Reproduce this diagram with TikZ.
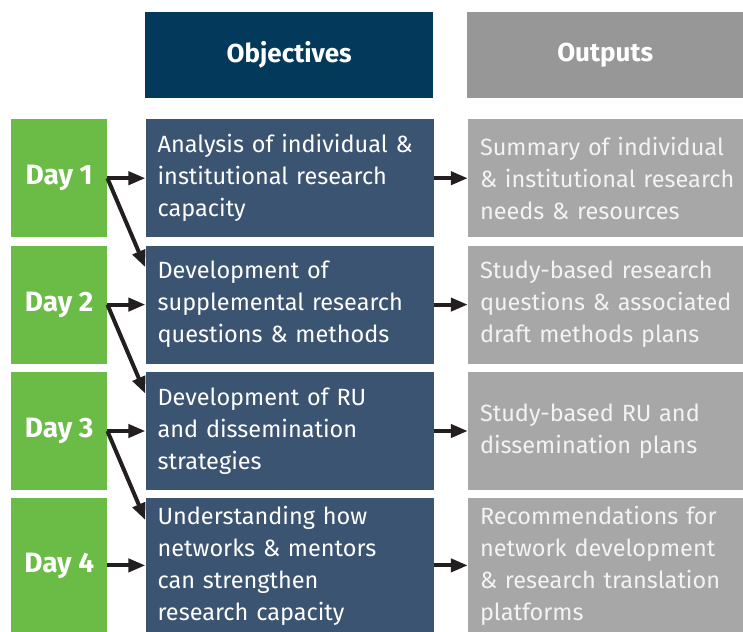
\documentclass[tikz,border=0pt]{standalone}
\usepackage{fontspec}
\setmainfont{Fira Sans}
\usetikzlibrary{positioning,arrows.meta}

\definecolor{daygreen}{HTML}{6BBC47}
\definecolor{objhead}{HTML}{03395A}
\definecolor{objbox}{HTML}{3A5472}
\definecolor{outhead}{HTML}{979797}
\definecolor{outbox}{HTML}{A7A7A7}
\definecolor{outtext}{HTML}{F3F3F3}
\definecolor{arrowblack}{HTML}{231F20}

\tikzset{
    headbox/.style={text=white, font=\bfseries\fontsize{26}{30}\selectfont,
        minimum height=86pt, inner sep=0pt, anchor=north west},
    daybox/.style={fill=daygreen, text=white, font=\bfseries\fontsize{28}{32}\selectfont,
        minimum width=96pt, minimum height=118pt, inner sep=0pt},
    objbox/.style={fill=objbox, text=white, font=\fontsize{23.5}{32}\selectfont,
        text width=264pt, inner xsep=12pt, inner ysep=0pt, align=left,
        minimum height=118pt},
    outbox/.style={fill=outbox, text=outtext, font=\fontsize{23.5}{32}\selectfont,
        text width=252pt, inner xsep=12pt, inner ysep=0pt, align=left,
        minimum height=118pt},
    flow/.style={draw=arrowblack, line width=4pt,
        -{Triangle[length=17pt, width=13pt]}},
}

\begin{document}
\begin{tikzpicture}[x=1pt, y=-1pt]
    \useasboundingbox (0,0) rectangle (743,631);

    % column headers
    \node[headbox, fill=objhead, minimum width=288pt] (objhead) at (145,12) {Objectives};
    \node[headbox, fill=outhead, minimum width=276pt] (outhead) at (467,12) {Outputs};

    % days
    \node[daybox, anchor=north west] (day1) at (11,119) {Day 1};
    \node[daybox, below=8pt of day1] (day2) {Day 2};
    \node[daybox, below=8pt of day2] (day3) {Day 3};
    \node[daybox, below=8pt of day3, minimum height=134pt] (day4) {Day 4};

    % objectives
    \node[objbox, right=38pt of day1] (obj1) {Analysis of individual \&\\ institutional research\\ capacity};
    \node[objbox, right=38pt of day2] (obj2) {Development of\\ supplemental research\\ questions \& methods};
    \node[objbox, right=38pt of day3] (obj3) {Development of RU\\ and dissemination\\ strategies};
    \node[objbox, right=38pt of day4, minimum height=134pt] (obj4) {Understanding how\\ networks \& mentors\\ can strengthen\\ research capacity};

    % outputs
    \node[outbox, right=34pt of obj1] (out1) {Summary of individual\\ \mbox{\& institutional research}\\ needs \& resources};
    \node[outbox, right=34pt of obj2] (out2) {Study-based research\\ questions \& associated\\ draft methods plans};
    \node[outbox, right=34pt of obj3] (out3) {Study-based RU and\\ dissemination plans};
    \node[outbox, right=34pt of obj4, minimum height=134pt] (out4) {Recommendations for\\ network development\\ \& research translation\\ platforms};

    % day -> objective
    \draw[flow] (day1.east) -- (obj1.west);
    \draw[flow] (day1.east) -- ([yshift=-22pt]obj2.north west);
    \draw[flow] (day2.east) -- (obj2.west);
    \draw[flow] (day2.east) -- ([yshift=-22pt]obj3.north west);
    \draw[flow] (day3.east) -- (obj3.west);
    \draw[flow] (day3.east) -- ([yshift=-22pt]obj4.north west);
    \draw[flow] (day4.east) -- (obj4.west);

    % objective -> output
    \draw[flow] (obj1.east) -- (out1.west);
    \draw[flow] (obj2.east) -- (out2.west);
    \draw[flow] (obj3.east) -- (out3.west);
    \draw[flow] (obj4.east) -- (out4.west);
\end{tikzpicture}
\end{document}
